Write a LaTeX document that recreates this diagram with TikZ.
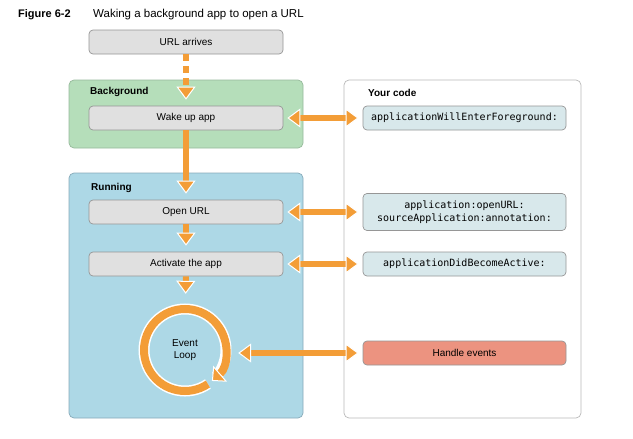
\documentclass[tikz,border=0pt]{standalone}
\usepackage{fontspec}
\setmainfont{Liberation Sans}
\setmonofont{DejaVu Sans Mono}
\usetikzlibrary{arrows.meta}

\begin{document}
\begin{tikzpicture}[x=1pt,y=1pt,yscale=-1,xscale=1,
  stepbox/.style={draw={rgb, 255:red, 150; green, 150; blue, 150 },fill={rgb, 255:red, 224; green, 224; blue, 224 },rounded corners=4pt,line width=0.7pt,minimum width=194pt,minimum height=24pt,inner sep=0pt,font=\fontsize{10}{12}\selectfont},
  codebox/.style={stepbox,minimum width=203pt,fill={rgb, 255:red, 216; green, 232; blue, 235 },font=\ttfamily\fontsize{10}{12.5}\selectfont,align=center},
  panel/.style={rounded corners=5pt,line width=0.7pt},
  paneltitle/.style={anchor=west,inner sep=0pt,font=\bfseries\fontsize{10}{12}\selectfont},
  flow/.style={draw={rgb, 255:red, 243; green, 157; blue, 55 },line width=6pt,shorten >=6pt,-{Triangle[width=19pt,length=13pt,fill={rgb, 255:red, 243; green, 157; blue, 55 },color=white,line width=1pt]}},
  flowboth/.style={flow,shorten <=4pt,shorten >=4pt,{Triangle[width=19pt,length=13pt,fill={rgb, 255:red, 243; green, 157; blue, 55 },color=white,line width=1pt]}-{Triangle[width=19pt,length=13pt,fill={rgb, 255:red, 243; green, 157; blue, 55 },color=white,line width=1pt]}}
]
\useasboundingbox (0,0) rectangle (633,439);

%Title
\node [anchor=west,inner sep=0pt,font=\bfseries\fontsize{11}{13}\selectfont] (fig) at (18,15) {Figure 6-2};
\node [anchor=west,inner sep=0pt,font=\fontsize{11.5}{13}\selectfont] (caption) at (93,15) {Waking a background app to open a URL};

%Shape: Rounded Rect [Background]
\draw [panel,draw={rgb, 255:red, 150; green, 185; blue, 155 },fill={rgb, 255:red, 181; green, 222; blue, 186 }] (69,80) rectangle (303,148);
\node [paneltitle] (bglabel) at (90,92) {Background};
%Shape: Rounded Rect [Running]
\draw [panel,draw={rgb, 255:red, 135; green, 170; blue, 185 },fill={rgb, 255:red, 173; green, 216; blue, 230 }] (69,173) rectangle (303,418);
\node [paneltitle] (runlabel) at (91,188) {Running};
%Shape: Rounded Rect [Your code]
\draw [panel,draw={rgb, 255:red, 185; green, 185; blue, 185 },fill=white] (344,80) rectangle (581,418);
\node [paneltitle] (codelabel) at (368,93) {Your code};

%Steps
\node [stepbox] (url) at (186,42) {URL arrives};
\node [stepbox] (wake) at (186,118) {Wake up app};
\node [stepbox] (openurl) at (186,212) {Open URL};
\node [stepbox] (activate) at (186,264) {Activate the app};
\node [circle,minimum size=100pt,inner sep=0pt,align=center,font=\fontsize{10}{12}\selectfont] (loop) at (185,350) {Event\\Loop};

%Code boxes
\node [codebox] (willenter) at (464.5,118) {applicationWillEnterForeground:};
\node [codebox,minimum height=37pt] (openurlcode) at (464.5,212) {application:openURL:\\sourceApplication:annotation:};
\node [codebox] (didbecome) at (464.5,264) {applicationDidBecomeActive:};
\node [stepbox,minimum width=203pt,fill={rgb, 255:red, 236; green, 147; blue, 128 }] (events) at (464.5,353) {Handle events};

%Event loop ring
\draw [white,line width=11pt] ([shift={(56:41)}]loop.center) arc [start angle=56,end angle=400,radius=41];
\draw [draw={rgb, 255:red, 243; green, 157; blue, 55 },line width=8pt,-{Triangle[width=21pt,length=11pt,fill={rgb, 255:red, 243; green, 157; blue, 55 },color=white,line width=1pt]}] ([shift={(56:41)}]loop.center) arc [start angle=56,end angle=409,radius=41];

%Straight Lines
\draw [flow,dash pattern=on 7pt off 5pt] (url) -- (wake);
\draw [flow] (wake) -- (openurl);
\draw [flow] (openurl) -- (activate);
\draw [flow] (activate) -- (loop);
\draw [flowboth] (wake) -- (willenter);
\draw [flowboth] (openurl) -- (openurlcode);
\draw [flowboth] (activate) -- (didbecome);
\draw [flowboth,shorten <=3pt] (loop.east |- events) -- (events);

\end{tikzpicture}
\end{document}
